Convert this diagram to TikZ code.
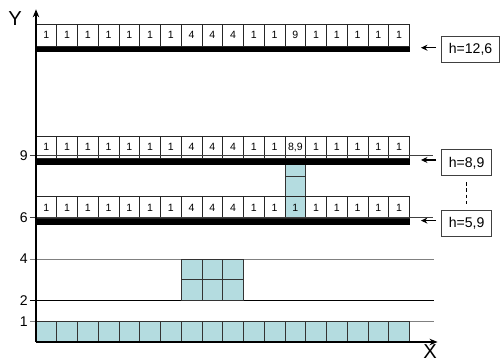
\documentclass[tikz,border=0pt]{standalone}
\usepackage{fontspec}
\setmainfont{Liberation Sans}
\usetikzlibrary{arrows.meta,positioning,calc}
\definecolor{cellblue}{RGB}{180,220,224}

\begin{document}
\begin{tikzpicture}[
  x=0.415cm, y=0.415cm,
  cell/.style={rectangle, draw=black!85, line width=0.5pt, inner sep=0pt, outer sep=0pt,
    minimum width=0.415cm, minimum height=0.444cm, anchor=south west, font=\fontsize{6}{7}\selectfont},
  bluecell/.style={draw=black!80, line width=0.5pt, fill=cellblue},
  bar/.style={fill=black},
  level/.style={line width=0.5pt},
  hbox/.style={rectangle, draw=black!75, line width=0.5pt, anchor=west, inner xsep=4.2pt,
    minimum height=0.52cm, font=\fontsize{8}{9}\selectfont},
  arr/.style={-{Stealth[length=1.3mm, width=1.2mm]}, line width=0.6pt, shorten <=1mm},
  axis/.style={-{Stealth[length=1.6mm, width=1.3mm]}, line width=0.6pt},
  tick/.style={left, inner sep=1pt, font=\fontsize{8}{9}\selectfont}
]
  \useasboundingbox (-1.735,-0.916) rectangle (22.36,16.48);

  % levels 1, 2, 4
  \draw[level, gray] (-0.3,1) -- (19.2,1);
  \draw[level, black] (-0.3,2) -- (19.2,2);
  \draw[level, gray] (-0.3,4) -- (19.2,4);

  % bottom row and the 3x2 block
  \foreach \i in {0,...,17}
    \draw[bluecell] (\i,0) rectangle ++(1,1);
  \foreach \i in {7,8,9}
    \foreach \j in {2,3}
      \draw[bluecell] (\i,\j) rectangle ++(1,1);

  % column under the 8,9 cell
  \draw[bluecell] (12,5.95) rectangle (13,8.55);
  \draw[black!80] (12,8) -- (13,8);

  % row h=12,6
  \fill[bar] (0,13.95) rectangle (18,14.25);
  \foreach \v [count=\i from 0] in {1,1,1,1,1,1,1,4,4,4,1,1,9,1,1,1,1,1}
    \node[cell] (a\i) at (\i,14.25) {\v};

  % row h=8,9
  \fill[bar] (0,8.55) rectangle (18,8.85);
  \foreach \v [count=\i from 0] in {1,1,1,1,1,1,1,4,4,4,1,1,{8,9},1,1,1,1,1}
    \node[cell] (b\i) at (\i,8.85) {\v};

  % row h=5,9
  \fill[bar] (0,5.65) rectangle (18,5.95);
  \foreach \v [count=\i from 0] in {1,1,1,1,1,1,1,4,4,4,1,1,1,1,1,1,1,1}
    \node[cell] (c\i) at (\i,5.95) {\v};

  % levels 6, 9
  \draw[level, black!75] (-0.3,6) -- (19.15,6);
  \draw[level, black!75] (-0.3,9) -- (19.15,9);

  % axes
  \coordinate (O) at (0,0);
  \coordinate (xend) at (19.35,0);
  \coordinate (yend) at (0,16.03);
  \draw[axis] (O) -- (xend);
  \draw[axis] (O) -- (yend);
  \node[font=\fontsize{11.5}{12}\selectfont] (ylab) at (-1.01,15.61) {Y};
  \node[font=\fontsize{11.5}{12}\selectfont] (xlab) at (18.99,-0.48) {X};
  \foreach \t in {1,2,4,6,9}
    \node[tick] (t\t) at (-0.3,\t) {\t};

  % heights
  \node[hbox] (h1) at (19.52,14.08) {h=12,6};
  \node[hbox] (h2) at (19.52,8.63) {h=8,9};
  \node[hbox] (h3) at (19.52,5.72) {h=5,9};
  \coordinate (e1) at (18.55,14.18);
  \coordinate (e2) at (18.55,8.77);
  \coordinate (e3) at (18.55,5.85);
  \draw[arr] (h1.west |- e1) -- (e1);
  \draw[arr] (h2.west |- e2) -- (e2);
  \draw[arr] (h3.west |- e3) -- (e3);
  \draw[dashed, dash pattern=on 2pt off 1.5pt, line width=0.4pt, shorten <=1.2mm, shorten >=1.2mm]
    (h2.south) -- (h3.north);
\end{tikzpicture}
\end{document}
